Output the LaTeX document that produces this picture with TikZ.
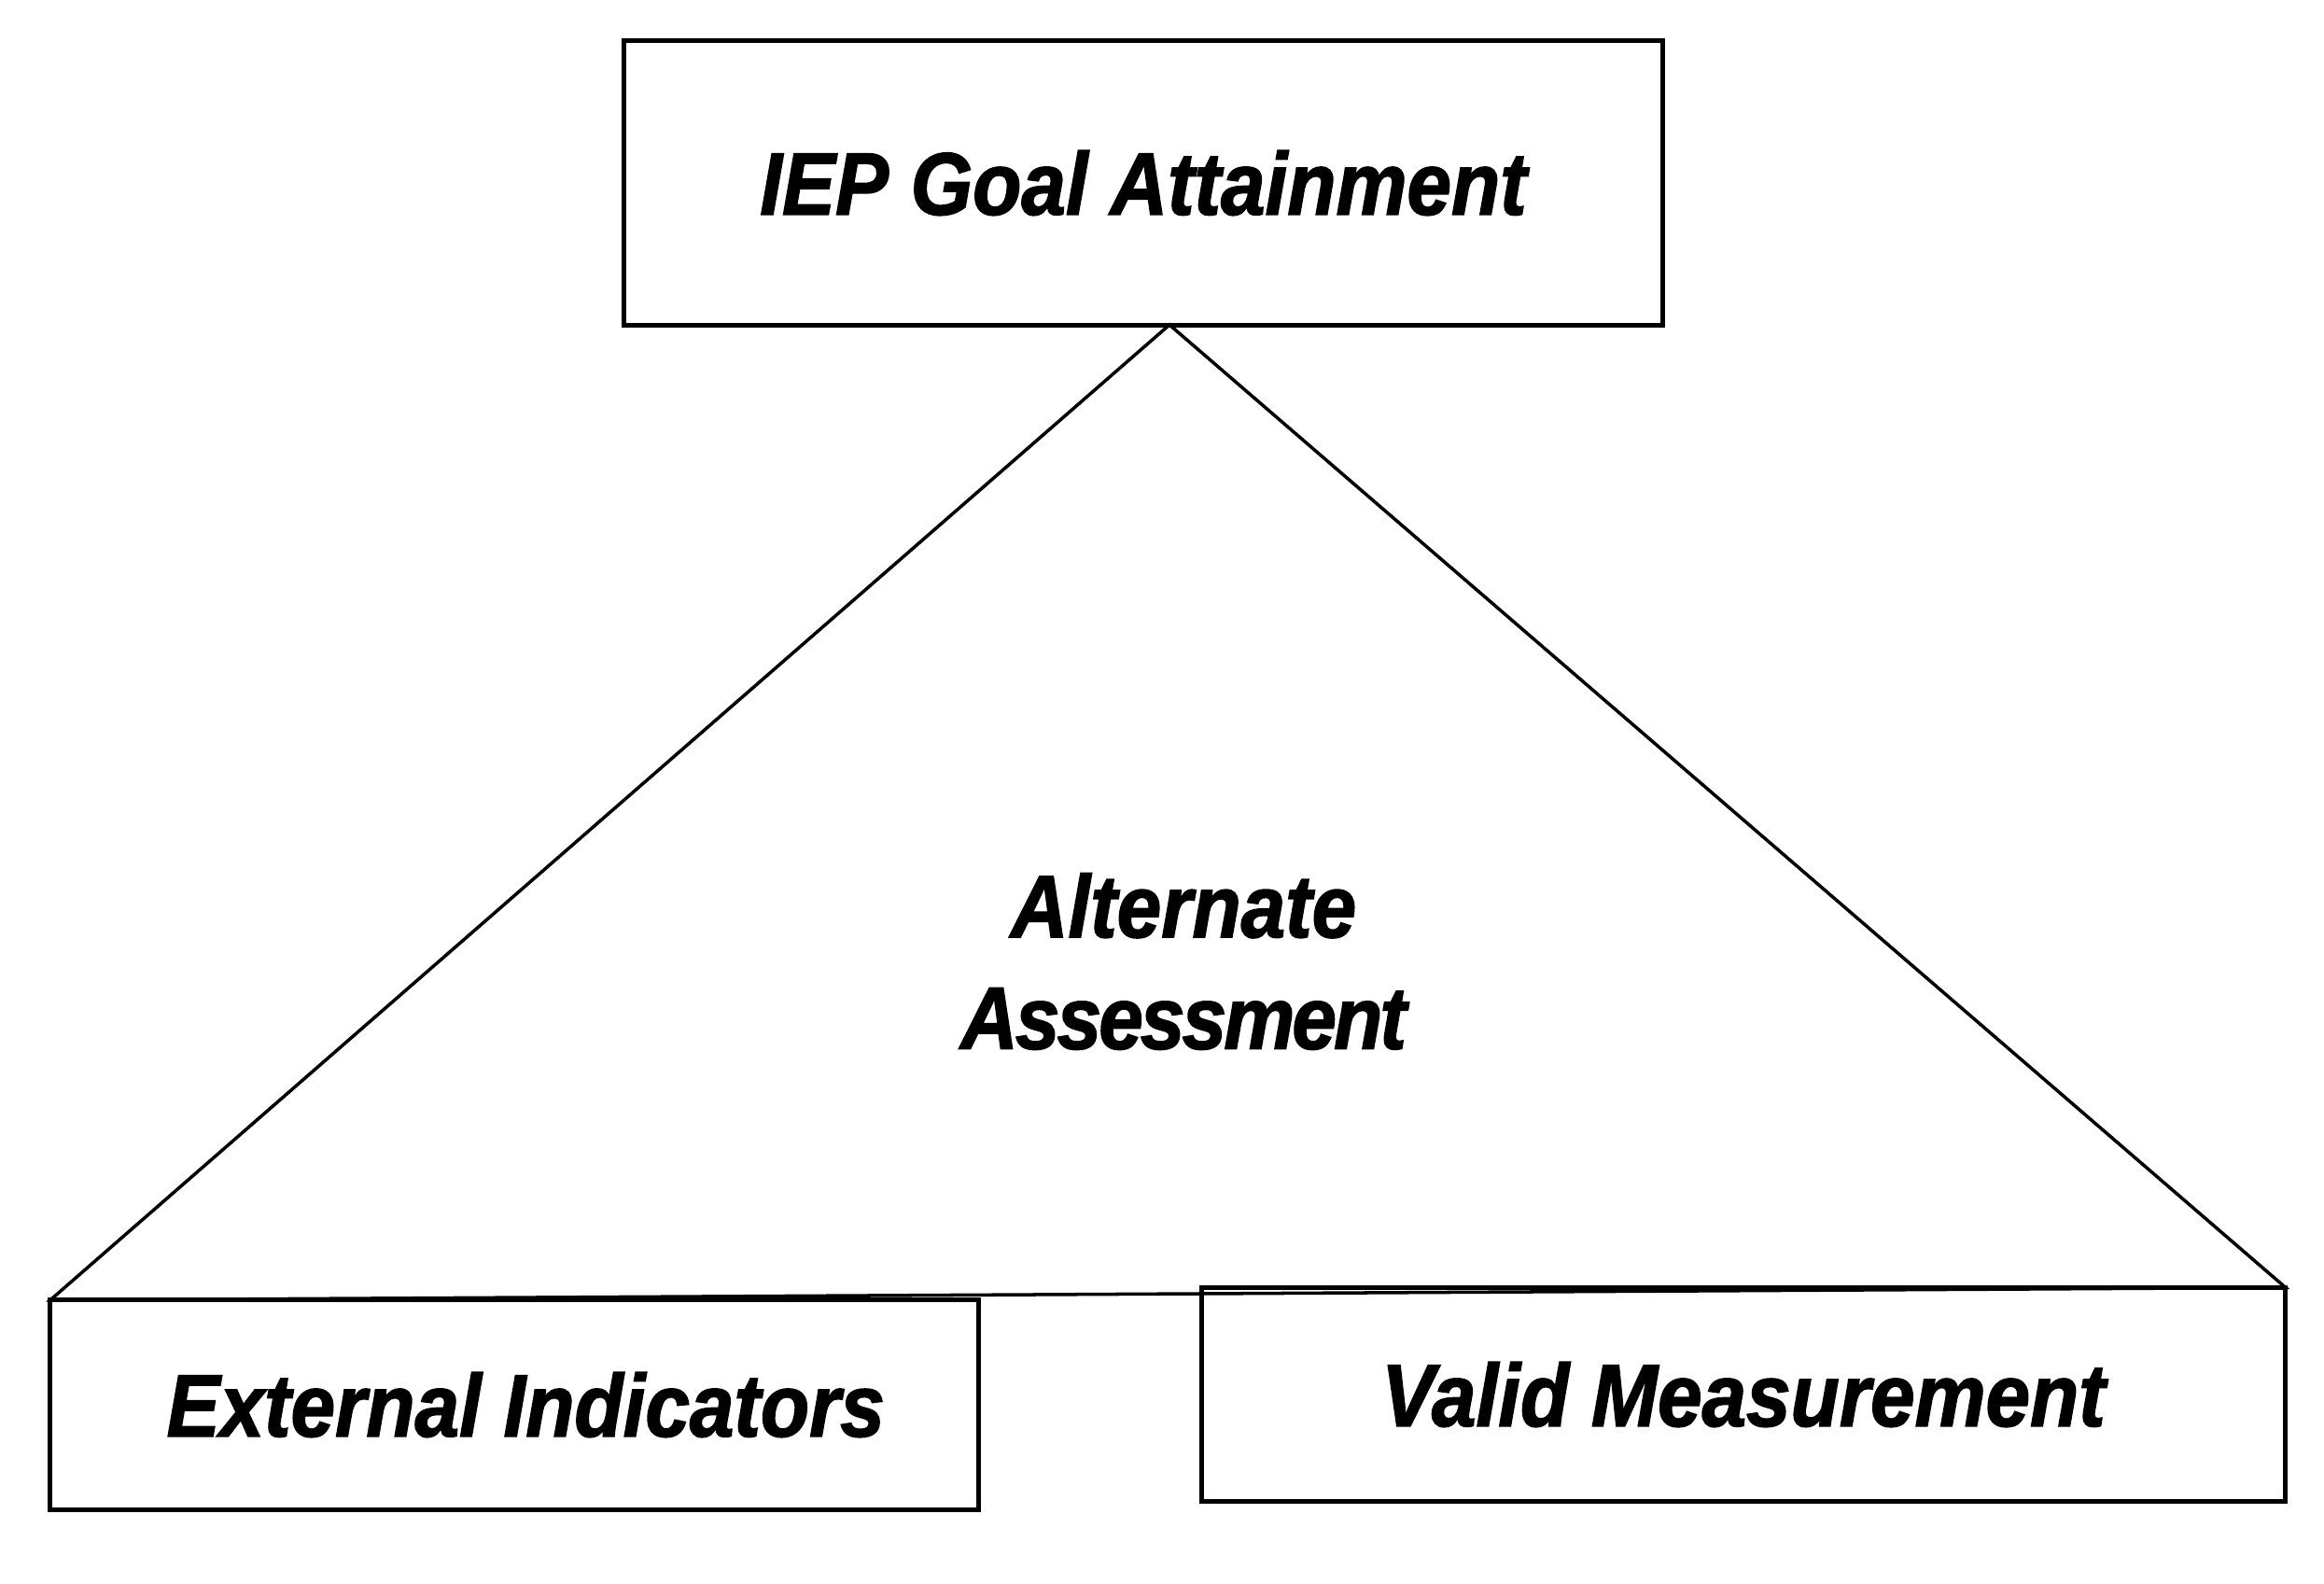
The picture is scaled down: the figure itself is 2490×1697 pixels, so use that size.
\documentclass[tikz,border=0pt]{standalone}
\usepackage{fontspec}
\setmainfont{Liberation Sans}[FakeStretch=0.9,FakeBold=1.6]
\usepackage{tikz}
\usetikzlibrary{positioning,calc}

\begin{document}
\begin{tikzpicture}[
  x=0.01cm,y=-0.01cm,
  box/.style={draw=black,line width=1.4pt,inner sep=0pt,outer sep=0pt,
              font=\fontsize{27}{34}\selectfont\bfseries\itshape},
  tag/.style={align=center,inner sep=0pt,font=\fontsize{27}{34}\selectfont\bfseries\itshape},
  leg/.style={draw=black,line width=1pt,line join=miter}
]
\useasboundingbox (0,0) rectangle (2490,1697);
\node[box,minimum width=11.13cm,minimum height=3.04cm] (goal) at (1225,196) {IEP Goal Attainment};
\node[box,minimum width=9.94cm,minimum height=2.24cm] (ext) at (551,1505) {\hspace{7pt}External Indicators};
\node[box,minimum width=11.61cm,minimum height=2.29cm] (valid) at (1868,1494) {Valid Measurement};
\node[tag] (alt) at (1268,1030) {Alternate\\\addfontfeature{LetterSpace=-3}Assessment};
\coordinate (apex) at (1253,348);
\draw[leg] (apex) -- (ext.north west) -- (valid.north east) -- cycle;
\end{tikzpicture}
\end{document}
